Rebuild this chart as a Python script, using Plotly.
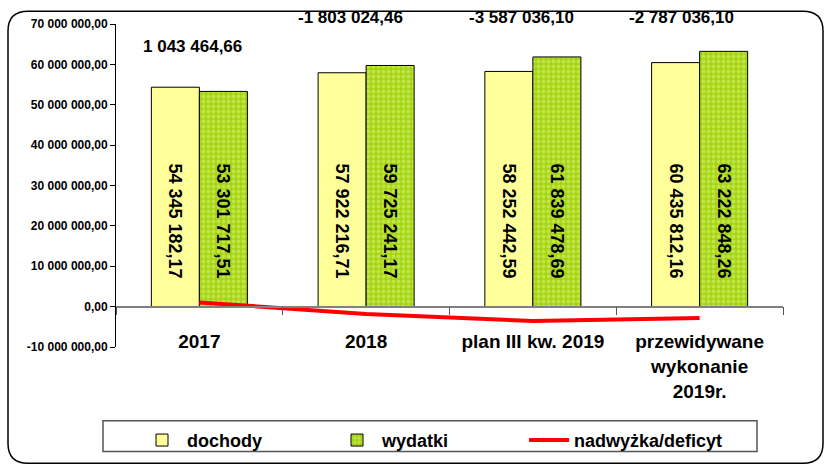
import plotly.graph_objects as go

# ---------------- data ----------------
categories = ["2017", "2018", "plan III kw. 2019", "przewidywane<br>wykonanie<br>2019r."]
dochody = [54345182.17, 57922216.71, 58252442.59, 60435812.16]
wydatki = [53301717.51, 59725241.17, 61839478.69, 63222848.26]
nadwyzka = [1043464.66, -1803024.46, -3587036.10, -2787036.10]
y_ticks = [-10e6, 0, 10e6, 20e6, 30e6, 40e6, 50e6, 60e6, 70e6]
series_names = ["dochody", "wydatki", "nadwyżka/deficyt"]


def pl(v):
    return f"{v:,.2f}".replace(",", " ").replace(".", ",")


y_ticktext = [pl(v) for v in y_ticks]

# ---------------- style / layout ----------------
W, H = 825, 471
L, R, T, B = 116, 783, 24, 352
FONT = "Arial, Liberation Sans, sans-serif"
NB = "\u00a0"
legend_pad = [13, 14, 0]


def px_x(px):
    return (px - L) / (R - L)


def px_y(py):
    return (B - py) / (B - T)


fig = go.Figure()
fig.add_trace(go.Bar(
    x=categories, y=dochody, name=series_names[0] + NB * legend_pad[0],
    marker=dict(color="#FFFF99", line=dict(color="black", width=1)),
    texttemplate="%{y:,.2f}" + NB * 5, textposition="inside",
    insidetextanchor="start", textangle=90,
    textfont=dict(family=FONT, size=18, color="black", weight="bold"),
))
fig.add_trace(go.Bar(
    x=categories, y=wydatki, name=series_names[1] + NB * legend_pad[1],
    marker=dict(color="#A4D414", line=dict(color="black", width=1),
                pattern=dict(shape=".", fgcolor="#DDF57A", size=5, solidity=0.45)),
    texttemplate="%{y:,.2f}" + NB * 5, textposition="inside",
    insidetextanchor="start", textangle=90,
    textfont=dict(family=FONT, size=18, color="black", weight="bold"),
))
fig.add_trace(go.Scatter(
    x=categories, y=nadwyzka, name=series_names[2], mode="lines",
    line=dict(color="#FF0000", width=4),
))

label_py = [47, 17, 17, 17]
label_xshift = [-7, -16, -11, -18]
for i, (v, py, xs) in enumerate(zip(nadwyzka, label_py, label_xshift)):
    fig.add_annotation(x=i, y=px_y(py), xref="x", yref="paper", text=pl(v), showarrow=False,
                       xshift=xs, yanchor="middle",
                       font=dict(family=FONT, size=17, color="black", weight="bold"))

# rounded outer frame
fl, fr, ft, fb, rr = 8, 823, 11, 470, 20
rx = rr / (R - L)
ry = rr / (B - T)
x0, x1, y0, y1 = px_x(fl), px_x(fr), px_y(fb), px_y(ft)
path = (f"M {x0+rx},{y1} L {x1-rx},{y1} Q {x1},{y1} {x1},{y1-ry} "
        f"L {x1},{y0+ry} Q {x1},{y0} {x1-rx},{y0} L {x0+rx},{y0} "
        f"Q {x0},{y0} {x0},{y0+ry} L {x0},{y1-ry} Q {x0},{y1} {x0+rx},{y1} Z")
fig.add_shape(type="path", path=path, xref="paper", yref="paper",
              line=dict(color="black", width=1.5))
# legend box
fig.add_shape(type="rect", xref="paper", yref="paper",
              x0=px_x(103), x1=px_x(757), y0=px_y(458), y1=px_y(427),
              line=dict(color="#555555", width=1.5), fillcolor="rgba(0,0,0,0)", layer="above")

fig.update_layout(
    width=W, height=H,
    margin=dict(l=L, r=W - R, t=T, b=H - B, pad=0),
    paper_bgcolor="white", plot_bgcolor="white",
    separators=", ",
    barmode="group", bargap=0.424, bargroupgap=0,
    font=dict(family=FONT, color="black"),
    showlegend=True,
    legend=dict(orientation="h", x=px_x(137), xanchor="left", y=px_y(428), yanchor="top",
                borderwidth=0, bgcolor="rgba(0,0,0,0)",
                font=dict(family=FONT, size=18, color="black", weight="bold"),
                itemwidth=40, traceorder="normal"),
    xaxis=dict(type="category", range=[-0.5, 3.5], anchor="free", position=px_y(311),
               showline=True, linecolor="#808080", linewidth=1.5, ticks="outside",
               ticklen=8, tickcolor="#555555", tickson="boundaries", showgrid=False,
               zeroline=False, tickangle=0,
               tickfont=dict(family=FONT, size=19, color="black", weight="bold"),
               ticklabelstandoff=18),
    yaxis=dict(range=[-10e6, 70e6], domain=[0, 1], showline=True, linecolor="black",
               linewidth=1, ticks="outside", ticklen=5, tickcolor="black",
               tickvals=y_ticks, ticktext=y_ticktext, showgrid=False, zeroline=False,
               tickfont=dict(family=FONT, size=12, color="black", weight="bold")),
)

fig.write_html("out.html", config={"displayModeBar": False},
               post_script="document.body.style.margin='0';")
